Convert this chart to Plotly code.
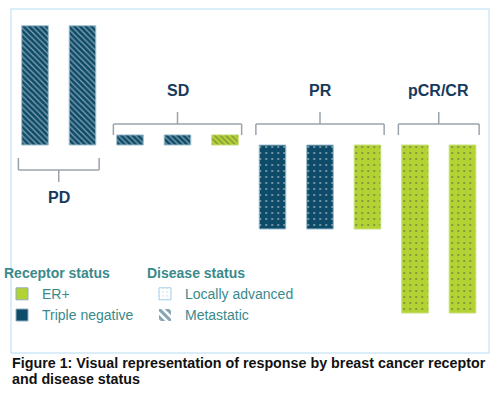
import plotly.graph_objects as go

# ---- data ----
responses = ["PD", "PD", "SD", "SD", "SD", "PR", "PR", "PR", "pCR/CR", "pCR/CR"]
receptor = ["Triple negative", "Triple negative", "Triple negative", "Triple negative", "ER+",
            "Triple negative", "Triple negative", "ER+", "ER+", "ER+"]
disease = ["Metastatic", "Metastatic", "Metastatic", "Metastatic", "Metastatic",
           "Locally advanced", "Locally advanced", "Locally advanced", "Locally advanced", "Locally advanced"]
change = [71, 71, 6, 6, 6, -50, -50, -50, -100, -100]
groups = ["PD", "SD", "PR", "pCR/CR"]
receptor_keys = ["ER+", "Triple negative"]
disease_keys = ["Locally advanced", "Metastatic"]

# ---- styles ----
W, H = 500, 395
FONT = "Liberation Sans, Arial, sans-serif"
C_GREEN = "#b3d234"
C_TEAL = "#0d4b68"
C_NAVY = "#173a5c"
C_LEG = "#3a8a8c"
C_BRACKET = "#9aa3ab"
rec_color = {"ER+": C_GREEN, "Triple negative": C_TEAL}
rec_fg = {"ER+": "#2c4f7c", "Triple negative": "#d8ecf4"}
dis_shape = {"Locally advanced": ".", "Metastatic": "\\"}
dis_size = {"Locally advanced": 6, "Metastatic": 4}
dis_sol = {"Locally advanced": 0.1, "Metastatic": 0.3}

def py(p):  # pixel-from-top -> paper y
    return 1 - p / H

def px(p):
    return p / W

fig = go.Figure()

idx = list(range(len(change)))
fig.add_trace(go.Bar(
    x=idx, y=change,
    marker=dict(
        color=[rec_color[r] for r in receptor],
        line=dict(color=["#9fc0cf" if r == "Triple negative" else "#c9e07a" for r in receptor], width=1),
        pattern=dict(
            shape=[dis_shape[d] for d in disease],
            fgcolor=[rec_fg[r] for r in receptor],
            bgcolor=[rec_color[r] for r in receptor],
            size=[dis_size[d] for d in disease],
            solidity=[dis_sol[d] for d in disease],
            fillmode="overlay",
        ),
    ),
    showlegend=False, hoverinfo="skip",
))

# legend dummy traces
for r in receptor_keys:
    fig.add_trace(go.Bar(x=[None], y=[None], name=r, legend="legend", legendgroup=r,
                         marker=dict(color=rec_color[r], line=dict(color="#8fb0c0", width=1))))
fig.add_trace(go.Bar(x=[None], y=[None], name="Locally advanced", legend="legend2", legendgroup="la",
                     marker=dict(color="white", line=dict(color="#a9cde8", width=1),
                                 pattern=dict(shape=".", fgcolor="#7fa9c9", bgcolor="white", size=5, solidity=0.12))))
fig.add_trace(go.Bar(x=[None], y=[None], name="Metastatic", legend="legend2", legendgroup="met",
                     marker=dict(color="white", line=dict(color="white", width=0),
                                 pattern=dict(shape="\\", fgcolor=C_TEAL, bgcolor="white", size=7, solidity=0.55))))

# brackets & group labels
shapes = []
annotations = []
for g in groups:
    members = [i for i, r in enumerate(responses) if r == g]
    x0, x1 = members[0] - 0.35, members[-1] + 0.35
    xc = (members[0] + members[-1]) / 2
    vals = [change[i] for i in members]
    if min(vals) > 0 and max(vals) > 30:  # bracket below
        yb, yend, ytick, ylab = 170, 158, 182, 197
    else:
        yb, yend, ytick, ylab = 124, 135, 112, 90
    line = dict(color=C_BRACKET, width=1.5)
    shapes.append(dict(type="line", xref="x", yref="paper", x0=x0, x1=x1, y0=py(yb), y1=py(yb), line=line))
    shapes.append(dict(type="line", xref="x", yref="paper", x0=x0, x1=x0, y0=py(yb), y1=py(yend), line=line))
    shapes.append(dict(type="line", xref="x", yref="paper", x0=x1, x1=x1, y0=py(yb), y1=py(yend), line=line))
    shapes.append(dict(type="line", xref="x", yref="paper", x0=xc, x1=xc, y0=py(yb), y1=py(ytick), line=line))
    annotations.append(dict(text="<b>%s</b>" % g, xref="x", yref="paper", x=xc, y=py(ylab),
                            showarrow=False, font=dict(family=FONT, size=16, color=C_NAVY),
                            xanchor="center", yanchor="middle"))

# frame
shapes.append(dict(type="rect", xref="paper", yref="paper", x0=px(11), x1=px(489), y0=py(9), y1=py(353),
                   line=dict(color="#cfe8f8", width=1.5), layer="below"))

# caption
annotations.append(dict(text="<b>Figure 1: Visual representation of response by breast cancer receptor</b>",
                        xref="paper", yref="paper", x=px(10), y=py(363), xanchor="left", yanchor="middle",
                        showarrow=False, font=dict(family=FONT, size=14.3, color="#111111")))
annotations.append(dict(text="<b>and disease status</b>",
                        xref="paper", yref="paper", x=px(10), y=py(379), xanchor="left", yanchor="middle",
                        showarrow=False, font=dict(family=FONT, size=14.3, color="#111111")))

ymax = 145 / 1.68
ymin = (145 - H) / 1.68
fig.update_layout(
    width=W, height=H, margin=dict(l=0, r=0, t=0, b=0),
    paper_bgcolor="white", plot_bgcolor="white",
    bargap=0.44,
    xaxis=dict(domain=[px(11.25), px(486.25)], range=[-0.5, 9.5], visible=False),
    yaxis=dict(domain=[0, 1], range=[ymin, ymax], visible=False, zeroline=False),
    shapes=shapes, annotations=annotations,
    legend=dict(x=px(2), y=py(260), xanchor="left", yanchor="top", tracegroupgap=5,
                title=dict(text="<b>Receptor status</b>", font=dict(family=FONT, size=14, color=C_LEG)),
                font=dict(family=FONT, size=14, color=C_LEG), bgcolor="rgba(0,0,0,0)",
                traceorder="normal"),
    legend2=dict(x=px(145), y=py(260), xanchor="left", yanchor="top", tracegroupgap=5,
                 title=dict(text="<b>Disease status</b>", font=dict(family=FONT, size=14, color=C_LEG)),
                 font=dict(family=FONT, size=14, color=C_LEG), bgcolor="rgba(0,0,0,0)",
                 traceorder="normal"),
)

fig.write_html("out.html", config={"displayModeBar": False},
               post_script="document.body.style.margin='0';")
